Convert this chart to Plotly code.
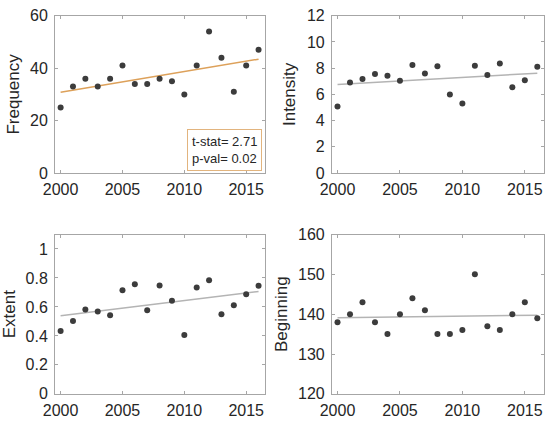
import numpy as np
import plotly.graph_objects as go

years = list(range(2000, 2017))
frequency = [25, 33, 36, 33, 36, 41, 34, 34, 36, 35, 30, 41, 54, 44, 31, 41, 47]
intensity = [5.08, 6.91, 7.18, 7.56, 7.42, 7.03, 8.24, 7.59, 8.15, 5.99, 5.31, 8.19, 7.47, 8.36, 6.55, 7.08, 8.10]
extent = [0.434, 0.503, 0.582, 0.569, 0.542, 0.715, 0.757, 0.577, 0.748, 0.642, 0.407, 0.735, 0.785, 0.549, 0.611, 0.688, 0.746]
beginning = [138, 140, 143, 138, 135, 140, 144, 141, 135, 135, 136, 150, 137, 136, 140, 143, 139]

panels = [
    ("Frequency", frequency, [0, 60], [0, 20, 40, 60], "#DDA15A"),
    ("Intensity", intensity, [0, 12], [0, 2, 4, 6, 8, 10, 12], "#B4B4B4"),
    ("Extent", extent, [0, 1.1], [0, 0.2, 0.4, 0.6, 0.8, 1], "#B4B4B4"),
    ("Beginning", beginning, [120, 160], [120, 130, 140, 150, 160], "#B4B4B4"),
]
xticks = [2000, 2005, 2010, 2015]

W, H = 552, 423
boxes = [(44, 259, 8, 172), (327, 544, 8, 172), (44, 259, 236, 402), (327, 544, 236, 402)]

fig = go.Figure()
font = "Liberation Sans Narrow, Arial Narrow, Liberation Sans, sans-serif"
tfont = dict(size=16, color="#262626", family=font)
for i, (name, vals, yr, yt, lc) in enumerate(panels):
    k = "" if i == 0 else str(i + 1)
    x0, x1, y0, y1 = boxes[i]
    xa = dict(domain=[x0 / W, x1 / W], range=[1999.55, 2016.55], tickvals=xticks,
              showgrid=False, zeroline=False, showline=True, mirror="ticks",
              linecolor="#A6A6A6", linewidth=1, ticks="inside", ticklen=3,
              tickcolor="#A6A6A6", tickfont=tfont, ticklabelstandoff=2,
              anchor="y" + k)
    ya = dict(domain=[1 - y1 / H, 1 - y0 / H], range=yr, tickvals=yt,
              showgrid=False, zeroline=False, showline=True, mirror="ticks",
              linecolor="#A6A6A6", linewidth=1, ticks="inside", ticklen=3,
              tickcolor="#A6A6A6", tickfont=tfont, ticklabelstandoff=3,
              title=dict(text=name, font=dict(size=17, color="#262626", family=font), standoff=6),
              anchor="x" + k)
    fig.update_layout(**{"xaxis" + k: xa, "yaxis" + k: ya})
    b, a = np.polyfit(years, vals, 1)
    fit = [a + b * y for y in years]
    fig.add_trace(go.Scatter(x=years, y=fit, mode="lines", line=dict(color=lc, width=1.5),
                             xaxis="x" + k, yaxis="y" + k, hoverinfo="skip"))
    fig.add_trace(go.Scatter(x=years, y=vals, mode="markers",
                             marker=dict(color="#3C3C3C", size=6),
                             xaxis="x" + k, yaxis="y" + k))

fig.add_annotation(x=217 / W, y=1 - 147.5 / H, xref="paper", yref="paper",
                   text="t-stat= 2.71<br>p-val= 0.02", showarrow=False,
                   font=dict(size=13, color="#262626", family=font),
                   align="left", bordercolor="#E2B47E", borderwidth=1, borderpad=4,
                   bgcolor="white", xanchor="center", yanchor="middle")

fig.update_layout(width=W, height=H, margin=dict(l=0, r=0, t=0, b=0),
                  plot_bgcolor="white", paper_bgcolor="white", showlegend=False)
fig.write_html("out.html")
